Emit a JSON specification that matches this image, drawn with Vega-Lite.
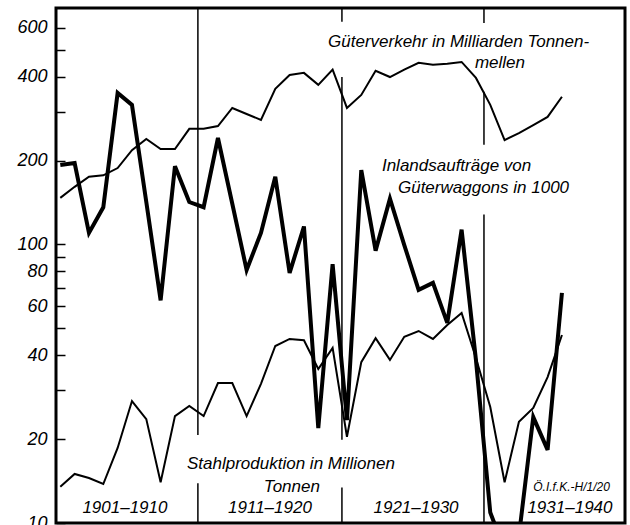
{
  "$schema": "https://vega.github.io/schema/vega-lite/v6.json",
  "width": 569,
  "height": 515,
  "autosize": {"type": "none"},
  "padding": {"left": 56, "top": 8, "right": 5, "bottom": 2},
  "background": "white",
  "config": {
    "view": {"stroke": "black", "strokeWidth": 3},
    "font": "Liberation Sans"
  },
  "datasets": {
    "lines": [
      {"year": 1901, "series": "Güterverkehr", "value": 147},
      {"year": 1902, "series": "Güterverkehr", "value": 161},
      {"year": 1903, "series": "Güterverkehr", "value": 175},
      {"year": 1904, "series": "Güterverkehr", "value": 177},
      {"year": 1905, "series": "Güterverkehr", "value": 188},
      {"year": 1906, "series": "Güterverkehr", "value": 218},
      {"year": 1907, "series": "Güterverkehr", "value": 239},
      {"year": 1908, "series": "Güterverkehr", "value": 220},
      {"year": 1909, "series": "Güterverkehr", "value": 220},
      {"year": 1910, "series": "Güterverkehr", "value": 260},
      {"year": 1911, "series": "Güterverkehr", "value": 260},
      {"year": 1912, "series": "Güterverkehr", "value": 266},
      {"year": 1913, "series": "Güterverkehr", "value": 309},
      {"year": 1914, "series": "Güterverkehr", "value": 294},
      {"year": 1915, "series": "Güterverkehr", "value": 280},
      {"year": 1916, "series": "Güterverkehr", "value": 362},
      {"year": 1917, "series": "Güterverkehr", "value": 406},
      {"year": 1918, "series": "Güterverkehr", "value": 413},
      {"year": 1919, "series": "Güterverkehr", "value": 374},
      {"year": 1920, "series": "Güterverkehr", "value": 424},
      {"year": 1921, "series": "Güterverkehr", "value": 309},
      {"year": 1922, "series": "Güterverkehr", "value": 344},
      {"year": 1923, "series": "Güterverkehr", "value": 420},
      {"year": 1924, "series": "Güterverkehr", "value": 399},
      {"year": 1925, "series": "Güterverkehr", "value": 424},
      {"year": 1926, "series": "Güterverkehr", "value": 449},
      {"year": 1927, "series": "Güterverkehr", "value": 442},
      {"year": 1928, "series": "Güterverkehr", "value": 445},
      {"year": 1929, "series": "Güterverkehr", "value": 452},
      {"year": 1930, "series": "Güterverkehr", "value": 396},
      {"year": 1931, "series": "Güterverkehr", "value": 317},
      {"year": 1932, "series": "Güterverkehr", "value": 237},
      {"year": 1933, "series": "Güterverkehr", "value": 251},
      {"year": 1934, "series": "Güterverkehr", "value": 268},
      {"year": 1935, "series": "Güterverkehr", "value": 287},
      {"year": 1936, "series": "Güterverkehr", "value": 339},
      {"year": 1901, "series": "Inlandsaufträge", "value": 193},
      {"year": 1902, "series": "Inlandsaufträge", "value": 196},
      {"year": 1903, "series": "Inlandsaufträge", "value": 110},
      {"year": 1904, "series": "Inlandsaufträge", "value": 136},
      {"year": 1905, "series": "Inlandsaufträge", "value": 350},
      {"year": 1906, "series": "Inlandsaufträge", "value": 317},
      {"year": 1907, "series": "Inlandsaufträge", "value": 142},
      {"year": 1908, "series": "Inlandsaufträge", "value": 63},
      {"year": 1909, "series": "Inlandsaufträge", "value": 191},
      {"year": 1910, "series": "Inlandsaufträge", "value": 142},
      {"year": 1911, "series": "Inlandsaufträge", "value": 136},
      {"year": 1912, "series": "Inlandsaufträge", "value": 241},
      {"year": 1913, "series": "Inlandsaufträge", "value": 140},
      {"year": 1914, "series": "Inlandsaufträge", "value": 81},
      {"year": 1915, "series": "Inlandsaufträge", "value": 110},
      {"year": 1916, "series": "Inlandsaufträge", "value": 175},
      {"year": 1917, "series": "Inlandsaufträge", "value": 79},
      {"year": 1918, "series": "Inlandsaufträge", "value": 116},
      {"year": 1919, "series": "Inlandsaufträge", "value": 21.9},
      {"year": 1920, "series": "Inlandsaufträge", "value": 85},
      {"year": 1921, "series": "Inlandsaufträge", "value": 23.4},
      {"year": 1922, "series": "Inlandsaufträge", "value": 185},
      {"year": 1923, "series": "Inlandsaufträge", "value": 95},
      {"year": 1924, "series": "Inlandsaufträge", "value": 146},
      {"year": 1925, "series": "Inlandsaufträge", "value": 99.5},
      {"year": 1926, "series": "Inlandsaufträge", "value": 68.7},
      {"year": 1927, "series": "Inlandsaufträge", "value": 72.8},
      {"year": 1928, "series": "Inlandsaufträge", "value": 52.3},
      {"year": 1929, "series": "Inlandsaufträge", "value": 113},
      {"year": 1930, "series": "Inlandsaufträge", "value": 38.5},
      {"year": 1931, "series": "Inlandsaufträge", "value": 10.9},
      {"year": 1932, "series": "Inlandsaufträge", "value": 8},
      {"year": 1933, "series": "Inlandsaufträge", "value": 9},
      {"year": 1934, "series": "Inlandsaufträge", "value": 24},
      {"year": 1935, "series": "Inlandsaufträge", "value": 18.3},
      {"year": 1936, "series": "Inlandsaufträge", "value": 67},
      {"year": 1901, "series": "Stahlproduktion", "value": 13.5},
      {"year": 1902, "series": "Stahlproduktion", "value": 15.0},
      {"year": 1903, "series": "Stahlproduktion", "value": 14.5},
      {"year": 1904, "series": "Stahlproduktion", "value": 13.8},
      {"year": 1905, "series": "Stahlproduktion", "value": 18.6},
      {"year": 1906, "series": "Stahlproduktion", "value": 27.4},
      {"year": 1907, "series": "Stahlproduktion", "value": 23.6},
      {"year": 1908, "series": "Stahlproduktion", "value": 14.0},
      {"year": 1909, "series": "Stahlproduktion", "value": 24.2},
      {"year": 1910, "series": "Stahlproduktion", "value": 26.3},
      {"year": 1911, "series": "Stahlproduktion", "value": 24.2},
      {"year": 1912, "series": "Stahlproduktion", "value": 31.8},
      {"year": 1913, "series": "Stahlproduktion", "value": 31.8},
      {"year": 1914, "series": "Stahlproduktion", "value": 24.2},
      {"year": 1915, "series": "Stahlproduktion", "value": 31.6},
      {"year": 1916, "series": "Stahlproduktion", "value": 43.2},
      {"year": 1917, "series": "Stahlproduktion", "value": 45.8},
      {"year": 1918, "series": "Stahlproduktion", "value": 45.3},
      {"year": 1919, "series": "Stahlproduktion", "value": 35.7},
      {"year": 1920, "series": "Stahlproduktion", "value": 42.5},
      {"year": 1921, "series": "Stahlproduktion", "value": 20.4},
      {"year": 1922, "series": "Stahlproduktion", "value": 37.8},
      {"year": 1923, "series": "Stahlproduktion", "value": 46.1},
      {"year": 1924, "series": "Stahlproduktion", "value": 38.5},
      {"year": 1925, "series": "Stahlproduktion", "value": 46.6},
      {"year": 1926, "series": "Stahlproduktion", "value": 48.9},
      {"year": 1927, "series": "Stahlproduktion", "value": 45.8},
      {"year": 1928, "series": "Stahlproduktion", "value": 51.4},
      {"year": 1929, "series": "Stahlproduktion", "value": 56.8},
      {"year": 1930, "series": "Stahlproduktion", "value": 39.1},
      {"year": 1931, "series": "Stahlproduktion", "value": 26.1},
      {"year": 1932, "series": "Stahlproduktion", "value": 14.0},
      {"year": 1933, "series": "Stahlproduktion", "value": 23.1},
      {"year": 1934, "series": "Stahlproduktion", "value": 25.9},
      {"year": 1935, "series": "Stahlproduktion", "value": 33.4},
      {"year": 1936, "series": "Stahlproduktion", "value": 47.3}
    ],
    "dividers": [
      {"x": 1910.6, "lo": 20.7, "hi": 706},
      {"x": 1910.6, "lo": 10, "hi": 13.9},
      {"x": 1920.65, "lo": 630, "hi": 706},
      {"x": 1920.65, "lo": 19.9, "hi": 399},
      {"x": 1920.65, "lo": 10, "hi": 13.4},
      {"x": 1930.56, "lo": 624, "hi": 706},
      {"x": 1930.56, "lo": 228, "hi": 353},
      {"x": 1930.56, "lo": 10, "hi": 128}
    ],
    "labels": [
      {"x": 1919.68, "y": 533, "text": "Güterverkehr in Milliarden Tonnen-"},
      {"x": 1929.93, "y": 449, "text": "mellen"},
      {"x": 1923.44, "y": 191, "text": "Inlandsaufträge von"},
      {"x": 1924.56, "y": 160, "text": "Güterwaggons in 1000"},
      {"x": 1909.84, "y": 16.3, "text": "Stahlproduktion in Millionen"},
      {"x": 1915.2, "y": 13.5, "text": "Tonnen"}
    ],
    "decades": [
      {"x": 1905.51, "y": 11.3, "text": "1901–1910"},
      {"x": 1915.63, "y": 11.3, "text": "1911–1920"},
      {"x": 1925.82, "y": 11.3, "text": "1921–1930"},
      {"x": 1936.56, "y": 11.3, "text": "1931–1940"}
    ],
    "source": [
      {"x": 1934.0, "y": 13.5, "text": "Ö.I.f.K.-H/1/20"}
    ]
  },
  "layer": [
    {
      "data": {"name": "dividers"},
      "mark": {"type": "rule", "color": "black", "strokeWidth": 1.5},
      "encoding": {
        "x": {"field": "x", "type": "quantitative", "scale": {"domain": [1900.7, 1940.4], "nice": false, "zero": false}, "axis": null},
        "y": {"field": "lo", "type": "quantitative", "scale": {"type": "log", "domain": [10, 706], "nice": false}, "axis": {
          "values": [10, 20, 30, 40, 50, 60, 70, 80, 90, 100, 200, 300, 400, 500, 600],
          "labelExpr": "indexof([10,20,40,60,80,100,200,400,600], datum.value) >= 0 ? datum.label : ''",
          "title": null, "domain": false, "grid": false,
          "offset": -9,
          "tickSize": 9, "tickWidth": 1.5, "tickColor": "black",
          "labelPadding": 9, "labelFontSize": 18, "labelFontStyle": "italic", "labelColor": "black",
          "labelFont": "Liberation Sans", "labelFlush": false
        }},
        "y2": {"field": "hi"}
      }
    },
    {
      "data": {"name": "lines"},
      "transform": [{"filter": "datum.series === 'Güterverkehr'"}],
      "mark": {"type": "line", "color": "black", "strokeWidth": 2, "clip": true},
      "encoding": {
        "x": {"field": "year", "type": "quantitative"},
        "y": {"field": "value", "type": "quantitative"}
      }
    },
    {
      "data": {"name": "lines"},
      "transform": [{"filter": "datum.series === 'Stahlproduktion'"}],
      "mark": {"type": "line", "color": "black", "strokeWidth": 2, "clip": true},
      "encoding": {
        "x": {"field": "year", "type": "quantitative"},
        "y": {"field": "value", "type": "quantitative"}
      }
    },
    {
      "data": {"name": "lines"},
      "transform": [{"filter": "datum.series === 'Inlandsaufträge'"}],
      "mark": {"type": "line", "color": "black", "strokeWidth": 4, "clip": true, "strokeJoin": "miter"},
      "encoding": {
        "x": {"field": "year", "type": "quantitative"},
        "y": {"field": "value", "type": "quantitative"}
      }
    },
    {
      "data": {"name": "labels"},
      "mark": {"type": "text", "align": "left", "baseline": "middle", "fontSize": 17, "fontStyle": "italic", "color": "black", "font": "Liberation Sans"},
      "encoding": {
        "x": {"field": "x", "type": "quantitative"},
        "y": {"field": "y", "type": "quantitative"},
        "text": {"field": "text"}
      }
    },
    {
      "data": {"name": "decades"},
      "mark": {"type": "text", "align": "center", "baseline": "middle", "fontSize": 17, "fontStyle": "italic", "color": "black", "font": "Liberation Sans"},
      "encoding": {
        "x": {"field": "x", "type": "quantitative"},
        "y": {"field": "y", "type": "quantitative"},
        "text": {"field": "text"}
      }
    },
    {
      "data": {"name": "source"},
      "mark": {"type": "text", "align": "left", "baseline": "middle", "fontSize": 12, "fontStyle": "italic", "color": "black", "font": "Liberation Sans"},
      "encoding": {
        "x": {"field": "x", "type": "quantitative"},
        "y": {"field": "y", "type": "quantitative"},
        "text": {"field": "text"}
      }
    }
  ]
}
